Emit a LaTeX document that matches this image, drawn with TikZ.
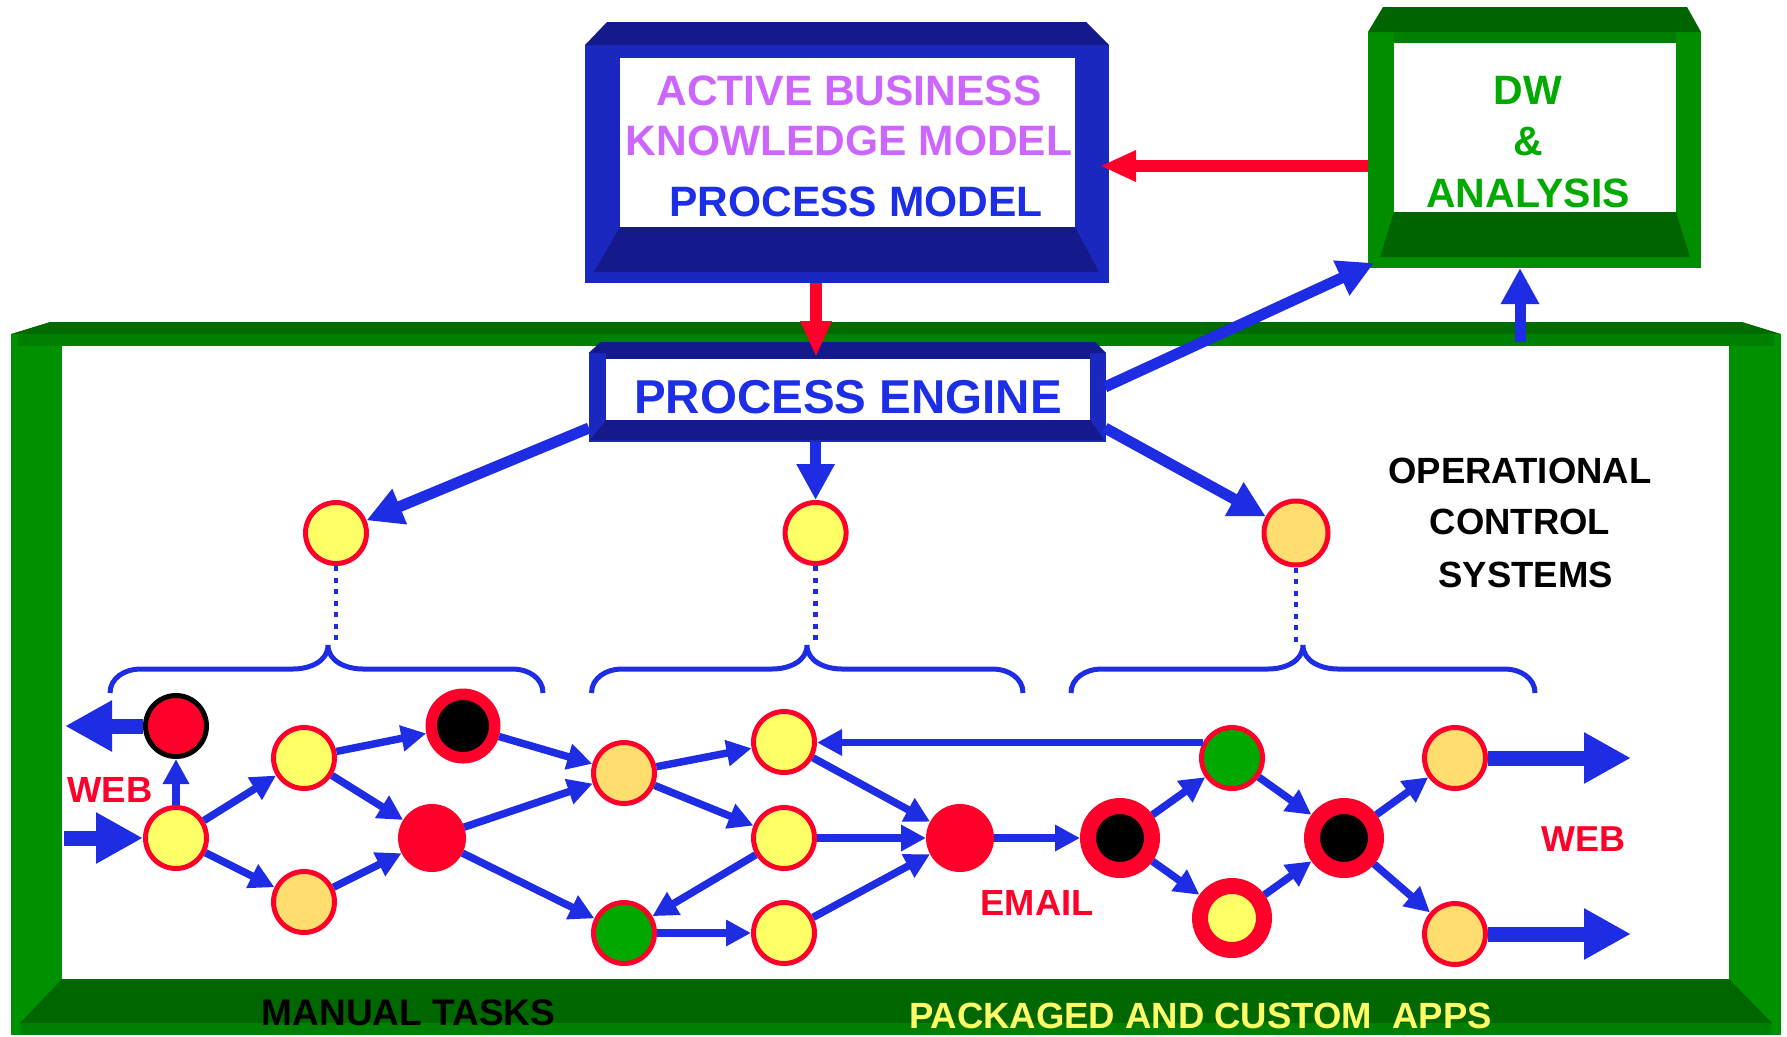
\documentclass[tikz,border=0pt]{standalone}
\usepackage{fontspec}
\setmainfont{Liberation Sans}
\usetikzlibrary{arrows.meta}
\definecolor{navyD}{RGB}{20,26,140}
\definecolor{navyM}{RGB}{27,40,192}
\definecolor{frC}{RGB}{0,108,0}
\definecolor{frM}{RGB}{0,128,0}
\definecolor{frS}{RGB}{0,145,0}
\definecolor{frD}{RGB}{0,102,0}
\definecolor{dwD}{RGB}{0,100,0}
\definecolor{dwM}{RGB}{0,128,0}
\definecolor{dwS}{RGB}{0,142,0}
\definecolor{arrowblue}{RGB}{30,45,228}
\definecolor{nodered}{RGB}{255,0,43}
\definecolor{nodeyellow}{RGB}{255,255,102}
\definecolor{nodeorange}{RGB}{255,221,110}
\definecolor{nodegreen}{RGB}{0,168,0}
\definecolor{violettext}{RGB}{204,102,255}
\definecolor{textblue}{RGB}{28,46,230}
\definecolor{dwgreen}{RGB}{0,170,0}
\definecolor{appyellow}{RGB}{255,255,102}
\tikzset{
  lbl/.style={inner sep=0pt, outer sep=0pt},
  boxarea/.style={inner sep=0pt, outer sep=0pt},
  cnode/.style={circle, draw=nodered, line width=5pt, minimum size=61pt, inner sep=0pt},
  yel/.style={cnode, fill=nodeyellow},
  org/.style={cnode, fill=nodeorange},
  grn/.style={cnode, fill=nodegreen},
  redfill/.style={circle, fill=nodered, minimum size=68pt, inner sep=0pt, outer sep=0pt},
  redblk/.style={circle, fill=nodered, draw=black, line width=5pt, minimum size=61pt, inner sep=0pt},
  ringblk/.style={circle, fill=black, draw=nodered, line width=11.5pt, minimum size=63.5pt, inner sep=0pt},
  ring/.style={circle, fill=black, draw=nodered, line width=16pt, minimum size=64pt, inner sep=0pt},
  ringyel/.style={ring, fill=nodeyellow},
  flow/.style={draw=arrowblue, line width=7.5pt, -{Triangle[length=25pt,width=25pt]}},
  feed/.style={draw=arrowblue, line width=11pt, -{Triangle[length=36pt,width=36pt]}},
  bigio/.style={draw=arrowblue, line width=15pt, -{Triangle[length=47pt,width=48pt]}},
  redarr/.style={draw=nodered, line width=12pt, -{Triangle[length=36pt,width=29pt]}},
  bracket/.style={draw=arrowblue, line width=5pt},
  dotline/.style={draw=arrowblue, line width=4.5pt, dash pattern=on 5pt off 6.5pt}
}
\begin{document}
\begin{tikzpicture}[x=1pt,y=1pt]
\useasboundingbox (0,0) rectangle (1787,-1036);
\fill[white] (0,0) rectangle (1787,-1036);

% ---- big green frame (operational control systems)
\fill[frS] (11,-334) rectangle (1781,-1035);
\fill[frC] (11,-334) -- (50,-322) -- (1742,-322) -- (1781,-334) -- cycle;
\fill[frM] (18,-334) rectangle (1774,-346);
\fill[frD] (62,-979) -- (1729,-979) -- (1772,-1023) -- (20,-1023) -- cycle;
\fill[frM] (20,-1023) rectangle (1772,-1035);
\fill[white] (62,-346) rectangle (1729,-979);

% ---- ABKM box
\fill[navyM] (585,-45) rectangle (1109,-283);
\fill[navyD] (585,-45) -- (607,-22) -- (1086,-22) -- (1109,-45) -- cycle;
\fill[navyD] (620,-227) -- (1075,-227) -- (1099,-272) -- (594,-272) -- cycle;
\fill[white] (620,-58) rectangle (1075,-227);
\node[boxarea, minimum width=524pt, minimum height=261pt] (abkm) at (847,-152.5) {};

% ---- DW box
\fill[dwS] (1368,-32) rectangle (1701,-268);
\fill[dwD] (1368,-32) -- (1383,-7) -- (1687,-7) -- (1701,-32) -- cycle;
\fill[dwM] (1394,-32) rectangle (1676,-43);
\fill[dwD] (1394,-212) -- (1676,-212) -- (1690,-257) -- (1380,-257) -- cycle;
\fill[white] (1394,-43) rectangle (1676,-212);
\node[boxarea, minimum width=333pt, minimum height=261pt] (dw) at (1534.5,-137.5) {};

% ---- Process engine box
\fill[navyM] (588.6,-353) rectangle (1106,-442);
\fill[navyD] (588.6,-353) -- (600.7,-342) -- (1095,-342) -- (1106,-353) -- cycle;
\fill[navyD] (606,-353) rectangle (1090,-359);
\fill[navyD] (606,-420) -- (1090,-420) -- (1104,-440) -- (590,-440) -- cycle;
\fill[white] (606,-359) rectangle (1090,-420);
\node[boxarea, minimum width=517.4pt, minimum height=100pt] (pe) at (847.3,-392) {};

% ---- texts
\node[lbl, text=violettext, font=\fontsize{42.5}{50}\selectfont\bfseries] (txa) at (849,-91) {ACTIVE BUSINESS};
\node[lbl, text=violettext, font=\fontsize{42.5}{50}\selectfont\bfseries] (txb) at (849,-141) {KNOWLEDGE MODEL};
\node[lbl, text=textblue, font=\fontsize{42.5}{50}\selectfont\bfseries] (txc) at (856,-202) {PROCESS MODEL};
\node[lbl, text=dwgreen, font=\fontsize{41}{49}\selectfont\bfseries] (txd) at (1528,-90) {DW};
\node[lbl, text=dwgreen, font=\fontsize{41}{49}\selectfont\bfseries] (txe) at (1528,-142) {\&};
\node[lbl, text=dwgreen, font=\fontsize{41}{49}\selectfont\bfseries] (txf) at (1528,-193) {ANALYSIS};
\node[lbl, text=textblue, font=\fontsize{47.5}{56}\selectfont\bfseries] (txg) at (848,-397.5) {PROCESS ENGINE};
\node[lbl, text=black, font=\fontsize{36.5}{44}\selectfont\bfseries] (txh) at (1520,-471) {OPERATIONAL};
\node[lbl, text=black, font=\fontsize{36.5}{44}\selectfont\bfseries] (txi) at (1520,-522) {CONTROL};
\node[lbl, text=black, font=\fontsize{36.5}{44}\selectfont\bfseries] (txj) at (1525.6,-575) {SYSTEMS};
\node[lbl, text=nodered, font=\fontsize{36.4}{44}\selectfont\bfseries] (txk) at (110,-790) {WEB};
\node[lbl, text=nodered, font=\fontsize{36}{44}\selectfont\bfseries] (txl) at (1583,-839) {WEB};
\node[lbl, text=nodered, font=\fontsize{36.3}{44}\selectfont\bfseries] (txm) at (1037,-903) {EMAIL};
\node[lbl, text=black, font=\fontsize{37}{44}\selectfont\bfseries] (txn) at (408.5,-1013) {MANUAL TASKS};
\node[lbl, text=appyellow, font=\fontsize{36.5}{44}\selectfont\bfseries] (txo) at (1200.5,-1016) {PACKAGED AND CUSTOM~~APPS};

% ---- top-level tasks
\node[yel] (t1) at (336,-533) {};
\node[yel] (t2) at (815.6,-533) {};
\node[org, minimum size=64pt] (t3) at (1296,-533) {};

% ---- braces
\coordinate (b1) at (328,-645);
\coordinate (b2) at (807,-645);
\coordinate (b3) at (1303,-645);
\draw[bracket] (110,-693) to[out=90,in=180] (140,-669) -- (293,-669) to[out=0,in=-90] (b1)
  to[out=-90,in=180] (363,-669) -- (513,-669) to[out=0,in=90] (543,-693);
\draw[bracket] (591.5,-693) to[out=90,in=180] (621.5,-669) -- (772,-669) to[out=0,in=-90] (b2)
  to[out=-90,in=180] (842,-669) -- (993,-669) to[out=0,in=90] (1023,-693);
\draw[bracket] (1071,-693) to[out=90,in=180] (1101,-669) -- (1268,-669) to[out=0,in=-90] (b3)
  to[out=-90,in=180] (1338,-669) -- (1505,-669) to[out=0,in=90] (1535,-693);
\draw[dotline] (t1.south) -- (t1.south |- b1);
\draw[dotline] (t2.south) -- (t2.south |- b2);
\draw[dotline] (t3.south) -- (t3.south |- b3);

% ---- process nodes
\node[redblk] (r0) at (176,-726) {};
\node[yel] (y1) at (176,-838) {};
\node[yel] (y2) at (304,-758) {};
\node[org] (o1) at (304,-902) {};
\node[ringblk] (rb1) at (463,-726) {};
\node[redfill] (r1) at (432,-838) {};
\node[org] (o2) at (624,-773) {};
\node[grn] (g1) at (624,-933) {};
\node[yel] (y3) at (784,-742) {};
\node[yel] (y4) at (784,-838) {};
\node[yel] (y5) at (784,-933) {};
\node[redfill] (r2) at (960,-838) {};
\node[ring] (rb2) at (1120,-838) {};
\node[grn] (g2) at (1232,-758) {};
\node[ringyel] (ry) at (1232,-918) {};
\node[ring] (rb3) at (1344,-838) {};
\node[org] (o3) at (1455,-758) {};
\node[org] (o4) at (1455,-934) {};

% ---- flow connectors
\draw[flow] (y1) -- (r0);
\draw[flow] (y1) -- (y2);
\draw[flow] (y1) -- (o1);
\draw[flow] (y2) -- (rb1);
\draw[flow] (y2) -- (r1);
\draw[flow] (o1) -- (r1);
\draw[flow] (rb1) -- (o2);
\draw[flow] (r1) -- (o2);
\draw[flow] (r1) -- (g1);
\draw[flow] (o2) -- (y3);
\draw[flow] (o2) -- (y4);
\draw[flow] (y4) -- (g1);
\draw[flow] (g1) -- (y5);
\draw[flow] (y3) -- (r2);
\draw[flow] (y4) -- (r2);
\draw[flow] (y5) -- (r2);
\draw[flow] (r2) -- (rb2);
\draw[flow] (g2.152) -- (g2.152 -| y3.east);
\draw[flow] (rb2) -- (g2);
\draw[flow] (rb2) -- (ry);
\draw[flow] (g2) -- (rb3);
\draw[flow] (ry) -- (rb3);
\draw[flow] (rb3) -- (o3);
\draw[flow] (rb3) -- (o4);

% ---- web in/out arrows
\coordinate (inL) at (64,-838);
\coordinate (outL) at (65,-726);
\coordinate (out3) at (1631,-758);
\coordinate (out4) at (1631,-934);
\draw[bigio] (inL) -- (y1);
\draw[bigio] (r0) -- (outL);
\draw[bigio] (o3) -- (out3);
\draw[bigio] (o4) -- (out4);

% ---- engine feeds
\coordinate (peL) at (589,-428);
\coordinate (peR) at (1105,-428);
\coordinate (peRt) at (1105,-387);
\coordinate (dwC) at (1374,-263);
\coordinate (fTop) at (1520,-342);
\draw[feed] (peL) -- (t1);
\draw[feed] (pe.south -| t2) -- (t2);
\draw[feed] (peR) -- (t3);
\draw[feed] (peRt) -- (dwC);
\draw[feed] (fTop) -- (fTop |- dw.south);

% ---- red arrows
\coordinate (peIn) at (816,-357);
\coordinate (redY) at (1100,-166);
\draw[redarr] (abkm.south -| peIn) -- (peIn);
\draw[redarr] (dw.west |- redY) -- (redY);
\end{tikzpicture}
\end{document}
